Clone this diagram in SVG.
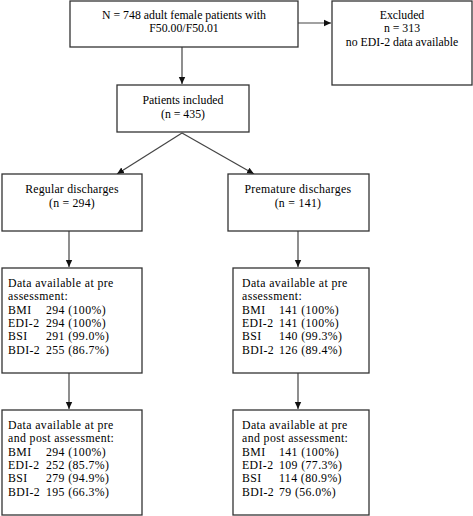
<svg xmlns="http://www.w3.org/2000/svg" width="473" height="516" viewBox="0 0 473 516">
<style>
.b{fill:#fff;stroke:#333;stroke-width:1.3}
.t{font-family:"Liberation Serif","DejaVu Serif",serif;font-size:11.8px;fill:#000}
.d{letter-spacing:0.4px}
.c{text-anchor:middle}
.l{stroke:#444;stroke-width:1.2;fill:none}
</style>
<defs>
<marker id="a" markerWidth="8" markerHeight="8" refX="7" refY="4" orient="auto" markerUnits="userSpaceOnUse">
<path d="M0,0.8 L7,4 L0,7.2 Z" fill="#111"/>
</marker>
</defs>
<g id="connectors">
<line class="l" x1="298" y1="23" x2="331" y2="23" marker-end="url(#a)"/>
<line class="l" x1="182" y1="47" x2="182" y2="84" marker-end="url(#a)"/>
<line class="l" x1="182" y1="133" x2="117" y2="174" marker-end="url(#a)"/>
<line class="l" x1="182" y1="133" x2="254" y2="174" marker-end="url(#a)"/>
<line class="l" x1="69" y1="231" x2="69" y2="267" marker-end="url(#a)"/>
<line class="l" x1="298" y1="231" x2="298" y2="267" marker-end="url(#a)"/>
<line class="l" x1="69" y1="373" x2="69" y2="409" marker-end="url(#a)"/>
<line class="l" x1="298" y1="373" x2="298" y2="409" marker-end="url(#a)"/>
</g>
<g id="n_total">
<rect class="b" x="70" y="1" width="228" height="46"/>
<text class="t c"><tspan x="184" y="19">N = 748 adult female patients with</tspan><tspan x="184" y="32.3">F50.00/F50.01</tspan></text>
</g>
<g id="n_excluded">
<rect class="b" x="332" y="1" width="140" height="84"/>
<text class="t c"><tspan x="402" y="19">Excluded</tspan><tspan x="402" y="32.3">n = 313</tspan><tspan x="402" y="45.6">no EDI-2 data available</tspan></text>
</g>
<g id="n_included">
<rect class="b" x="117" y="85" width="132" height="47"/>
<text class="t c"><tspan x="183" y="104">Patients included</tspan><tspan x="183" y="118">(n = 435)</tspan></text>
</g>
<g id="n_regular">
<rect class="b" x="2" y="174" width="140" height="57"/>
<text class="t c" style="letter-spacing:0.2px"><tspan x="72" y="193">Regular discharges</tspan><tspan x="72" y="207">(n = 294)</tspan></text>
</g>
<g id="n_premature">
<rect class="b" x="228" y="174" width="141" height="57"/>
<text class="t c" style="letter-spacing:0.3px"><tspan x="298" y="193">Premature discharges</tspan><tspan x="298" y="207">(n = 141)</tspan></text>
</g>
<g id="n_reg_pre">
<rect class="b" x="2" y="268" width="140" height="105"/>
<text class="t d"><tspan x="8" y="287">Data available at pre</tspan><tspan x="8" y="300.3">assessment:</tspan><tspan x="8" y="313.6">BMI</tspan><tspan x="46" y="313.6">294 (100%)</tspan><tspan x="8" y="326.9">EDI-2</tspan><tspan x="46" y="326.9">294 (100%)</tspan><tspan x="8" y="340.2">BSI</tspan><tspan x="46" y="340.2">291 (99.0%)</tspan><tspan x="8" y="353.5">BDI-2</tspan><tspan x="46" y="353.5">255 (86.7%)</tspan></text>
</g>
<g id="n_pre_pre">
<rect class="b" x="233" y="268" width="136" height="105"/>
<text class="t d"><tspan x="242" y="287">Data available at pre</tspan><tspan x="242" y="300.3">assessment:</tspan><tspan x="242" y="313.6">BMI</tspan><tspan x="279" y="313.6">141 (100%)</tspan><tspan x="242" y="326.9">EDI-2</tspan><tspan x="279" y="326.9">141 (100%)</tspan><tspan x="242" y="340.2">BSI</tspan><tspan x="279" y="340.2">140 (99.3%)</tspan><tspan x="242" y="353.5">BDI-2</tspan><tspan x="279" y="353.5">126 (89.4%)</tspan></text>
</g>
<g id="n_reg_post">
<rect class="b" x="2" y="410" width="140" height="105"/>
<text class="t d"><tspan x="8" y="429">Data available at pre</tspan><tspan x="8" y="442.3">and post assessment:</tspan><tspan x="8" y="455.6">BMI</tspan><tspan x="46" y="455.6">294 (100%)</tspan><tspan x="8" y="468.9">EDI-2</tspan><tspan x="46" y="468.9">252 (85.7%)</tspan><tspan x="8" y="482.2">BSI</tspan><tspan x="46" y="482.2">279 (94.9%)</tspan><tspan x="8" y="495.5">BDI-2</tspan><tspan x="46" y="495.5">195 (66.3%)</tspan></text>
</g>
<g id="n_pre_post">
<rect class="b" x="233" y="410" width="136" height="105"/>
<text class="t d"><tspan x="242" y="429">Data available at pre</tspan><tspan x="242" y="442.3">and post assessment:</tspan><tspan x="242" y="455.6">BMI</tspan><tspan x="279" y="455.6">141 (100%)</tspan><tspan x="242" y="468.9">EDI-2</tspan><tspan x="279" y="468.9">109 (77.3%)</tspan><tspan x="242" y="482.2">BSI</tspan><tspan x="279" y="482.2">114 (80.9%)</tspan><tspan x="242" y="495.5">BDI-2</tspan><tspan x="279" y="495.5">79 (56.0%)</tspan></text>
</g>
</svg>
